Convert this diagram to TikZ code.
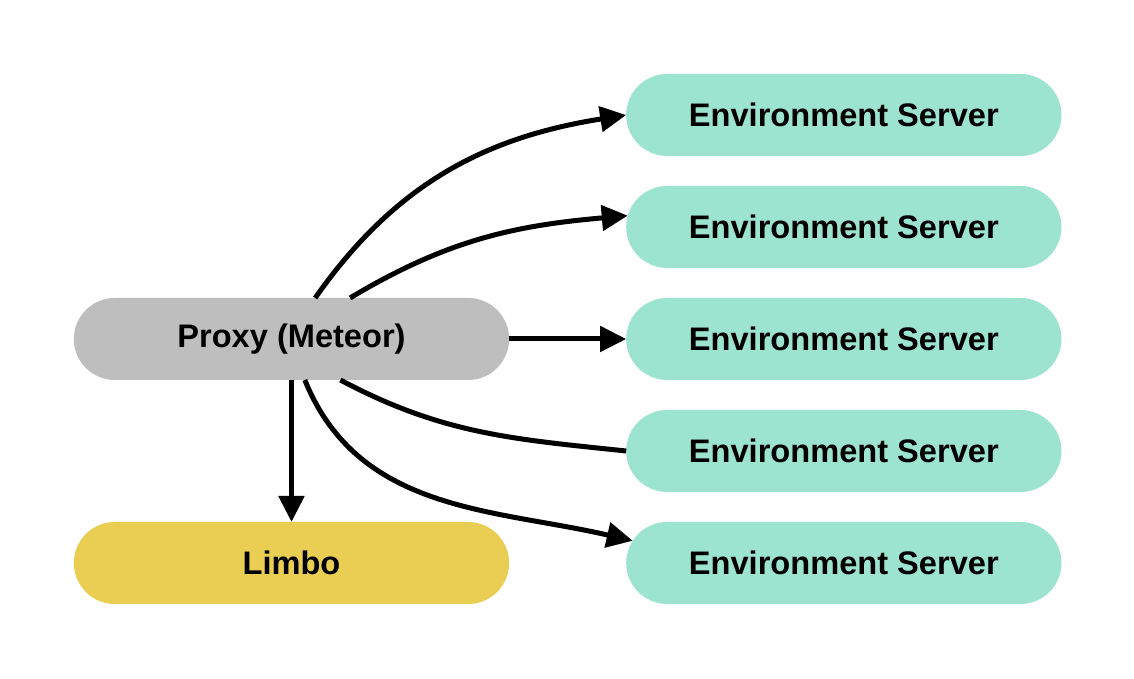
\documentclass[tikz,border=0pt]{standalone}
\usepackage{fontspec}
\setmainfont{Liberation Sans}
\usetikzlibrary{positioning}
\usetikzlibrary{shapes.misc}
\usetikzlibrary{arrows.meta}
\definecolor{proxygray}{RGB}{190,190,190}
\definecolor{limboyellow}{RGB}{234,206,84}
\definecolor{envgreen}{RGB}{157,228,208}

\begin{document}
\begin{tikzpicture}[x=1pt, y=1pt, style={rounded rectangle, minimum height=82pt, minimum width=442pt, outer sep=0pt, font=\fontsize{32.6}{38}\selectfont\bfseries}, link/.style={line width=5pt, -{Triangle[length=26pt, width=25pt]}}]
		\useasboundingbox (0,0) rectangle (1134,679);
		
		\node[fill=proxygray] (P) at (291.5,340) {Proxy (Meteor)};
		\node[fill=limboyellow, below=142pt of P] (L) {Limbo};
		\node[fill=envgreen, right=117pt of P] (S3) {Environment Server};
		\node[fill=envgreen, above=30pt of S3] (S2) {Environment Server};
		\node[fill=envgreen, above=30pt of S2] (S1) {Environment Server};
		\node[fill=envgreen, below=30pt of S3] (S4) {Environment Server};
		\node[fill=envgreen, below=30pt of S4] (S5) {Environment Server};
		\draw[link] (P.60) to[out=55, in=189] (S1.west);
		\draw[link] (P.35) to[out=31, in=185] (S2.177);
		\draw[link] (P.east) -- (S3.west);
		\draw[line width=5pt] (P.-40) to[out=-28, in=174] (S4.west);
		\draw[link] (P.-72) to[out=-68, in=167] (S5.174);
		\draw[link] (P.south) -- (L.north);
		\end{tikzpicture}
\end{document}
